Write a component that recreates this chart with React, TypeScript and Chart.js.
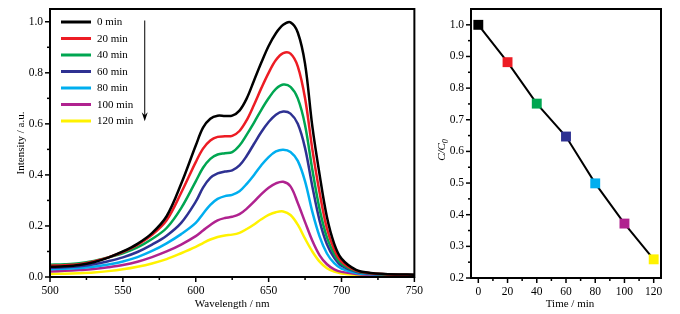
import React, { useEffect, useRef } from 'react';
import { Chart, registerables } from 'chart.js';
Chart.register(...registerables);

// ---------- data ----------
const wavelengths = [500, 510, 520, 530, 540, 550, 560, 570, 580, 590, 600, 605, 610, 615, 620, 625, 630, 635, 640, 645, 650, 655, 660, 665, 670, 675, 680, 685, 690, 695, 700, 710, 720, 730, 740, 750];

const abs0 = [0.040, 0.042, 0.047, 0.058, 0.076, 0.100, 0.130, 0.172, 0.238, 0.365, 0.515, 0.585, 0.620, 0.632, 0.631, 0.632, 0.652, 0.700, 0.770, 0.840, 0.905, 0.955, 0.988, 0.998, 0.958, 0.835, 0.590, 0.400, 0.235, 0.130, 0.072, 0.028, 0.016, 0.012, 0.010, 0.009];
const abs20 = [0.044, 0.046, 0.050, 0.061, 0.077, 0.098, 0.126, 0.165, 0.222, 0.330, 0.450, 0.503, 0.535, 0.549, 0.551, 0.553, 0.572, 0.615, 0.675, 0.740, 0.800, 0.850, 0.877, 0.875, 0.825, 0.700, 0.500, 0.330, 0.190, 0.108, 0.060, 0.025, 0.015, 0.011, 0.009, 0.008];
const abs40 = [0.048, 0.050, 0.054, 0.063, 0.077, 0.093, 0.116, 0.149, 0.192, 0.270, 0.375, 0.428, 0.463, 0.480, 0.485, 0.489, 0.515, 0.558, 0.605, 0.655, 0.700, 0.737, 0.754, 0.745, 0.700, 0.595, 0.420, 0.265, 0.155, 0.090, 0.052, 0.023, 0.014, 0.010, 0.009, 0.008];
const abs60 = [0.036, 0.038, 0.042, 0.050, 0.062, 0.077, 0.098, 0.127, 0.162, 0.212, 0.295, 0.350, 0.388, 0.406, 0.413, 0.418, 0.437, 0.475, 0.522, 0.568, 0.607, 0.636, 0.648, 0.640, 0.600, 0.505, 0.355, 0.220, 0.128, 0.075, 0.044, 0.020, 0.013, 0.010, 0.009, 0.008];
const abs80 = [0.030, 0.032, 0.035, 0.040, 0.049, 0.061, 0.078, 0.102, 0.132, 0.168, 0.212, 0.248, 0.283, 0.306, 0.317, 0.322, 0.336, 0.365, 0.400, 0.438, 0.470, 0.492, 0.499, 0.490, 0.455, 0.375, 0.255, 0.158, 0.092, 0.054, 0.033, 0.016, 0.011, 0.009, 0.008, 0.007];
const abs100 = [0.022, 0.024, 0.027, 0.031, 0.038, 0.047, 0.060, 0.078, 0.100, 0.127, 0.160, 0.182, 0.204, 0.222, 0.231, 0.236, 0.246, 0.268, 0.295, 0.325, 0.350, 0.367, 0.373, 0.355, 0.290, 0.215, 0.142, 0.085, 0.050, 0.030, 0.020, 0.012, 0.009, 0.008, 0.007, 0.007];
const abs120 = [0.012, 0.013, 0.015, 0.018, 0.023, 0.030, 0.040, 0.053, 0.070, 0.093, 0.118, 0.133, 0.147, 0.157, 0.163, 0.166, 0.173, 0.188, 0.206, 0.226, 0.243, 0.254, 0.257, 0.243, 0.205, 0.150, 0.100, 0.060, 0.034, 0.021, 0.014, 0.009, 0.007, 0.006, 0.006, 0.005];

const spectra = [abs0, abs20, abs40, abs60, abs80, abs100, abs120];
const seriesLabels = ['0 min', '20 min', '40 min', '60 min', '80 min', '100 min', '120 min'];
const seriesColors = ['#000000', '#ed1c24', '#00a651', '#2e3192', '#00aeef', '#b0228f', '#fff200'];

const times = [0, 20, 40, 60, 80, 100, 120];
const ratio = [1.0, 0.882, 0.751, 0.647, 0.499, 0.372, 0.259];

const leftXMajor = [500, 550, 600, 650, 700, 750];
const leftXMinor = [525, 575, 625, 675, 725];
const leftYMajor = [0, 0.2, 0.4, 0.6, 0.8, 1.0];
const leftYMinor = [0.1, 0.3, 0.5, 0.7, 0.9];
const rightXMajor = [0, 20, 40, 60, 80, 100, 120];
const rightXMinor = [10, 30, 50, 70, 90, 110];
const rightYMajor = [0.2, 0.3, 0.4, 0.5, 0.6, 0.7, 0.8, 0.9, 1.0];
const rightYMinor = [0.25, 0.35, 0.45, 0.55, 0.65, 0.75, 0.85, 0.95];

const arrowX = 565;
const arrowFrom = 1.005;
const arrowTo = 0.61;

// ---------- helpers ----------
const SERIF = '"Liberation Serif", "DejaVu Serif", serif';
const near = (a: number, b: number) => Math.abs(a - b) < 1e-6;
const isIn = (arr: number[], v: number) => arr.some((m) => near(m, v));

function tickSet(major: number[], minor: number[]) {
  return [...major, ...minor].sort((a, b) => a - b).map((v) => ({ value: v }));
}

const tickMarks = {
  id: 'tickMarks',
  afterDraw(chart: any) {
    const ctx = chart.ctx;
    const ca = chart.chartArea;
    ctx.save();
    ctx.strokeStyle = '#000';
    ctx.lineWidth = 1.5;
    Object.values(chart.scales).forEach((s: any) => {
      s.ticks.forEach((t: any) => {
        const major = t.label !== '' && t.label != null;
        const len = major ? 5 : 3;
        const p = s.getPixelForValue(t.value);
        ctx.beginPath();
        if (s.axis === 'x') {
          ctx.moveTo(p, ca.bottom);
          ctx.lineTo(p, ca.bottom + len);
        } else {
          ctx.moveTo(ca.left - len, p);
          ctx.lineTo(ca.left, p);
        }
        ctx.stroke();
      });
    });
    ctx.lineWidth = 2;
    ctx.strokeRect(ca.left, ca.top, ca.right - ca.left, ca.bottom - ca.top);
    ctx.restore();
  },
};

function makeAxis(major: number[], minor: number[], fmt: (v: number) => string, min: number, max: number, fitKey: 'width' | 'height', fitSize: number, pad: number) {
  return {
    type: 'linear',
    min,
    max,
    afterBuildTicks: (s: any) => {
      s.ticks = tickSet(major, minor);
    },
    afterFit: (s: any) => {
      s[fitKey] = fitSize;
    },
    grid: { display: true, drawOnChartArea: false, drawTicks: true, tickLength: 5, color: 'rgba(0,0,0,0)' },
    border: { display: false },
    ticks: {
      autoSkip: false,
      maxRotation: 0,
      padding: pad,
      color: '#000',
      font: { family: SERIF, size: 11.5 },
      callback: (v: number) => (isIn(major, v) ? fmt(v) : ''),
    },
  };
}

// ---------- left chart ----------
function LeftChart() {
  const ref = useRef<HTMLCanvasElement>(null);
  useEffect(() => {
    const datasets = spectra.map((arr, i) => ({
      label: seriesLabels[i],
      data: wavelengths.map((w, j) => ({ x: w, y: arr[j] })),
      borderColor: seriesColors[i],
      borderWidth: 2.5,
      pointRadius: 0,
      tension: 0.35,
      fill: false,
    }));
    const extras = {
      id: 'leftExtras',
      afterDraw(chart: any) {
        const ctx = chart.ctx;
        const ca = chart.chartArea;
        const xs = chart.scales.x;
        const ys = chart.scales.y;
        ctx.save();
        // legend
        ctx.font = `11px ${SERIF}`;
        ctx.textBaseline = 'middle';
        ctx.textAlign = 'left';
        seriesLabels.forEach((lab, i) => {
          const y = ca.top + 13 + i * 16.5;
          ctx.strokeStyle = seriesColors[i];
          ctx.lineWidth = 3;
          ctx.beginPath();
          ctx.moveTo(ca.left + 11, y);
          ctx.lineTo(ca.left + 41, y);
          ctx.stroke();
          ctx.fillStyle = '#000';
          ctx.fillText(lab, ca.left + 47, y + 0.5);
        });
        // arrow
        const ax = xs.getPixelForValue(arrowX);
        const a1 = ys.getPixelForValue(arrowFrom);
        const a2 = ys.getPixelForValue(arrowTo);
        ctx.strokeStyle = '#000';
        ctx.fillStyle = '#000';
        ctx.lineWidth = 1;
        ctx.beginPath();
        ctx.moveTo(ax, a1);
        ctx.lineTo(ax, a2 - 4);
        ctx.stroke();
        ctx.beginPath();
        ctx.moveTo(ax, a2);
        ctx.lineTo(ax - 3, a2 - 9);
        ctx.lineTo(ax, a2 - 6);
        ctx.lineTo(ax + 3, a2 - 9);
        ctx.closePath();
        ctx.fill();
        // axis titles
        ctx.font = `11px ${SERIF}`;
        ctx.textAlign = 'center';
        ctx.fillText('Wavelength / nm', (ca.left + ca.right) / 2, 304);
        ctx.save();
        ctx.translate(21, (ca.top + ca.bottom) / 2);
        ctx.rotate(-Math.PI / 2);
        ctx.fillText('Intensity / a.u.', 0, 0);
        ctx.restore();
        ctx.restore();
      },
    };
    const chart = new Chart(ref.current as HTMLCanvasElement, {
      type: 'line',
      data: { datasets } as any,
      options: {
        animation: false,
        responsive: false,
        maintainAspectRatio: false,
        layout: { padding: { left: 0, right: 9, top: 9, bottom: 0 } },
        plugins: { legend: { display: false }, tooltip: { enabled: false } },
        scales: {
          x: makeAxis(leftXMajor, leftXMinor, (v) => String(v), 500, 750, 'height', 37, 2),
          y: makeAxis(leftYMajor, leftYMinor, (v) => v.toFixed(1), 0, 1.05, 'width', 50, 2),
        } as any,
      },
      plugins: [tickMarks, extras],
    });
    return () => chart.destroy();
  }, []);
  return <canvas ref={ref} width={425} height={314} style={{ position: 'absolute', left: 0, top: 0, width: 425, height: 314 }} />;
}

// ---------- right chart ----------
function RightChart() {
  const ref = useRef<HTMLCanvasElement>(null);
  useEffect(() => {
    const extras = {
      id: 'rightExtras',
      afterDraw(chart: any) {
        const ctx = chart.ctx;
        const ca = chart.chartArea;
        ctx.save();
        ctx.fillStyle = '#000';
        ctx.font = `11px ${SERIF}`;
        ctx.textAlign = 'center';
        ctx.textBaseline = 'middle';
        ctx.fillText('Time / min', (ca.left + ca.right) / 2 + 4, 304);
        // C/C0
        ctx.translate(16, 150);
        ctx.rotate(-Math.PI / 2);
        ctx.textAlign = 'left';
        ctx.textBaseline = 'alphabetic';
        const f1 = `italic 11px ${SERIF}`;
        const f2 = `italic 8px ${SERIF}`;
        ctx.font = f1;
        const w1 = ctx.measureText('C/C').width;
        ctx.font = f2;
        const w2 = ctx.measureText('0').width;
        const x0 = -(w1 + w2) / 2;
        ctx.font = f1;
        ctx.fillText('C/C', x0, 4);
        ctx.font = f2;
        ctx.fillText('0', x0 + w1, 7);
        ctx.restore();
      },
    };
    const chart = new Chart(ref.current as HTMLCanvasElement, {
      type: 'line',
      data: {
        datasets: [
          {
            label: 'C/C0',
            data: times.map((t, i) => ({ x: t, y: ratio[i] })),
            borderColor: '#000',
            borderWidth: 2,
            pointStyle: 'rect',
            pointRadius: 7,
            pointBackgroundColor: seriesColors,
            pointBorderColor: seriesColors,
            pointBorderWidth: 0,
            tension: 0,
          },
        ],
      } as any,
      options: {
        animation: false,
        responsive: false,
        maintainAspectRatio: false,
        layout: { padding: { left: 0, right: 19, top: 9, bottom: 0 } },
        plugins: { legend: { display: false }, tooltip: { enabled: false } },
        scales: {
          x: makeAxis(rightXMajor, rightXMinor, (v) => String(v), -5, 125, 'height', 36, 2),
          y: makeAxis(rightYMajor, rightYMinor, (v) => v.toFixed(1), 0.2, 1.05, 'width', 46, 2),
        } as any,
      },
      plugins: [tickMarks, extras],
    });
    return () => chart.destroy();
  }, []);
  return <canvas ref={ref} width={255} height={314} style={{ position: 'absolute', left: 425, top: 0, width: 255, height: 314 }} />;
}

export default function App() {
  return (
    <div style={{ position: 'fixed', left: 0, top: 0, width: 680, height: 314, background: '#ffffff', overflow: 'hidden' }}>
      <LeftChart />
      <RightChart />
    </div>
  );
}
